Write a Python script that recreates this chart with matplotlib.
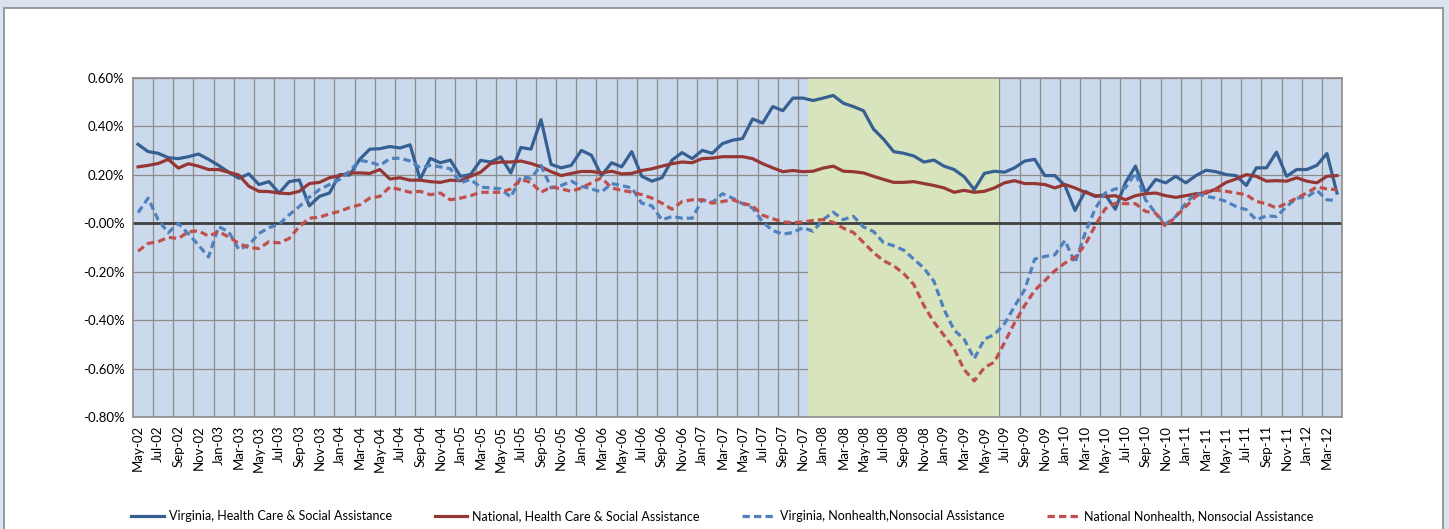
import numpy as np
import pandas as pd
import matplotlib
matplotlib.use("Agg")
import matplotlib.pyplot as plt
from matplotlib.patches import Rectangle

plt.rcParams["font.family"] = ["Lato", "DejaVu Sans"]

# monthly, May-02 .. Apr-12, percent change
months = pd.date_range("2002-05-01", periods=120, freq="MS")
labels = [d.strftime("%b-%y") for d in months]

va_health = [
    0.326, 0.296, 0.289, 0.271, 0.267, 0.275, 0.286, 0.264, 0.239, 0.211,
    0.186, 0.204, 0.160, 0.172, 0.125, 0.172, 0.179, 0.072, 0.111, 0.125,
    0.201, 0.199, 0.264, 0.306, 0.308, 0.317, 0.311, 0.324, 0.181, 0.268,
    0.250, 0.261, 0.194, 0.201, 0.260, 0.253, 0.274, 0.208, 0.313, 0.306,
    0.428, 0.243, 0.229, 0.239, 0.301, 0.281, 0.197, 0.250, 0.233, 0.296,
    0.194, 0.174, 0.188, 0.261, 0.292, 0.267, 0.301, 0.289, 0.329, 0.343,
    0.350, 0.431, 0.414, 0.482, 0.465, 0.517, 0.517, 0.507, 0.517, 0.528,
    0.496, 0.482, 0.465, 0.389, 0.347, 0.296, 0.289, 0.278, 0.253, 0.261,
    0.236, 0.222, 0.192, 0.139, 0.206, 0.215, 0.211, 0.229, 0.257, 0.264,
    0.197, 0.197, 0.156, 0.053, 0.132, 0.111, 0.118, 0.058, 0.167, 0.236,
    0.125, 0.181, 0.167, 0.194, 0.167, 0.197, 0.219, 0.213, 0.201, 0.197,
    0.156, 0.229, 0.229, 0.294, 0.194, 0.222, 0.222, 0.239, 0.288, 0.125,
]
us_health = [
    0.233, 0.239, 0.247, 0.264, 0.228, 0.246, 0.236, 0.222, 0.222, 0.211,
    0.199, 0.153, 0.132, 0.131, 0.125, 0.122, 0.132, 0.164, 0.169, 0.188,
    0.197, 0.208, 0.208, 0.206, 0.222, 0.183, 0.188, 0.178, 0.178, 0.172,
    0.169, 0.178, 0.176, 0.194, 0.211, 0.247, 0.253, 0.253, 0.257, 0.247,
    0.233, 0.213, 0.197, 0.206, 0.214, 0.214, 0.208, 0.215, 0.204, 0.206,
    0.218, 0.225, 0.236, 0.246, 0.253, 0.250, 0.267, 0.269, 0.275, 0.275,
    0.275, 0.267, 0.246, 0.229, 0.213, 0.218, 0.213, 0.215, 0.228, 0.236,
    0.215, 0.213, 0.208, 0.194, 0.181, 0.169, 0.169, 0.172, 0.164, 0.156,
    0.146, 0.128, 0.136, 0.128, 0.132, 0.146, 0.167, 0.176, 0.164, 0.164,
    0.160, 0.146, 0.160, 0.146, 0.128, 0.114, 0.111, 0.114, 0.097, 0.114,
    0.122, 0.125, 0.114, 0.107, 0.114, 0.122, 0.125, 0.142, 0.169, 0.183,
    0.201, 0.194, 0.174, 0.176, 0.174, 0.188, 0.174, 0.167, 0.194, 0.197,
]
va_other = [
    0.044, 0.104, 0.014, -0.039, 0.000, -0.044, -0.090, -0.139, -0.014, -0.035,
    -0.108, -0.090, -0.042, -0.018, -0.004, 0.035, 0.069, 0.108, 0.139, 0.160,
    0.181, 0.215, 0.260, 0.253, 0.239, 0.267, 0.269, 0.257, 0.229, 0.239,
    0.233, 0.225, 0.167, 0.181, 0.149, 0.146, 0.142, 0.108, 0.192, 0.186,
    0.239, 0.146, 0.156, 0.174, 0.153, 0.142, 0.129, 0.164, 0.156, 0.146,
    0.083, 0.072, 0.014, 0.028, 0.021, 0.021, 0.097, 0.086, 0.122, 0.104,
    0.081, 0.063, 0.005, -0.030, -0.045, -0.038, -0.018, -0.033, 0.015, 0.046,
    0.015, 0.029, -0.015, -0.034, -0.080, -0.093, -0.111, -0.148, -0.185, -0.240,
    -0.356, -0.441, -0.479, -0.559, -0.479, -0.459, -0.415, -0.343, -0.274, -0.148,
    -0.137, -0.130, -0.071, -0.164, -0.041, 0.060, 0.125, 0.142, 0.146, 0.208,
    0.097, 0.042, -0.003, 0.028, 0.083, 0.125, 0.111, 0.104, 0.090, 0.069,
    0.056, 0.014, 0.031, 0.028, 0.069, 0.104, 0.108, 0.136, 0.097, 0.094,
]
us_other = [
    -0.115, -0.083, -0.076, -0.058, -0.063, -0.035, -0.031, -0.053, -0.035, -0.056,
    -0.083, -0.101, -0.104, -0.076, -0.081, -0.063, -0.014, 0.021, 0.025, 0.039,
    0.049, 0.065, 0.076, 0.104, 0.111, 0.150, 0.139, 0.128, 0.132, 0.118,
    0.125, 0.097, 0.104, 0.114, 0.128, 0.128, 0.128, 0.142, 0.181, 0.169,
    0.128, 0.150, 0.142, 0.132, 0.146, 0.167, 0.188, 0.146, 0.136, 0.129,
    0.118, 0.104, 0.083, 0.058, 0.090, 0.097, 0.097, 0.083, 0.090, 0.097,
    0.083, 0.072, 0.033, 0.019, 0.005, 0.003, 0.005, 0.012, 0.015, 0.004,
    -0.020, -0.038, -0.079, -0.121, -0.155, -0.175, -0.208, -0.253, -0.340, -0.408,
    -0.463, -0.518, -0.605, -0.651, -0.596, -0.573, -0.493, -0.411, -0.340, -0.277,
    -0.237, -0.196, -0.164, -0.140, -0.089, -0.010, 0.060, 0.083, 0.081, 0.081,
    0.049, 0.042, -0.014, 0.028, 0.069, 0.111, 0.132, 0.136, 0.132, 0.125,
    0.118, 0.090, 0.081, 0.063, 0.083, 0.104, 0.125, 0.150, 0.142, 0.139,
]
recession = ("2007-12-01", "2009-06-01")

names = ["Virginia, Health Care & Social Assistance",
         "National, Health Care & Social Assistance",
         "Virginia, Nonhealth,Nonsocial Assistance",
         "National Nonhealth, Nonsocial Assistance"]

x = np.arange(len(months))
fig = plt.figure(figsize=(14.49, 5.29), dpi=100, facecolor="#dae3f0")
fig.patches.append(Rectangle((4 / 1449, -0.01), 1439 / 1449, 1 - 8 / 529 + 0.01,
                             transform=fig.transFigure, facecolor="white",
                             edgecolor="#8a8a8a", lw=1.2, zorder=-5))
ax = fig.add_axes([133 / 1449, 1 - 417 / 529, (1342 - 133) / 1449, (417 - 78) / 529])
ax.set_facecolor("#cbd9ec")

# gridlines under the recession band
for gx in np.arange(1.5, len(x), 2):
    ax.axvline(gx, color="#8c8c8c", lw=0.9, zorder=0.5)
for gy in np.arange(-0.8, 0.61, 0.2):
    ax.axhline(gy, color="#8c8c8c", lw=0.9, zorder=0.5)

r0 = months.get_loc(pd.Timestamp(recession[0]))
r1 = months.get_loc(pd.Timestamp(recession[1]))
ax.axvspan(r0 - 0.5, r1 + 0.5, color="#d7e4bd", zorder=1, lw=0)
ax.axhline(0, color="#404040", lw=2, zorder=2)

ax.plot(x, va_health, color="#376092", lw=2.3, label=names[0], zorder=3)
ax.plot(x, us_health, color="#953735", lw=2.3, label=names[1], zorder=3)
ax.plot(x, va_other, color="#4f81bd", lw=2.3, dashes=(2.3, 1.3), label=names[2], zorder=3)
ax.plot(x, us_other, color="#c0504d", lw=2.3, dashes=(2.3, 1.3), label=names[3], zorder=3)

ax.set_xlim(-0.5, len(x) - 0.5)
ax.set_ylim(-0.8, 0.6)
ax.set_yticks(np.arange(-0.8, 0.61, 0.2))
ax.set_yticklabels([f"{v:.2f}%" for v in np.arange(-0.8, 0.61, 0.2)], fontsize=9.5)
ax.set_xticks(x[::2])
ax.set_xticklabels(labels[::2], rotation=90, fontsize=9.5)
ax.tick_params(axis="both", length=0, pad=6, colors="#000000")
for s in ax.spines.values():
    s.set_color("#8c8c8c")
    s.set_linewidth(1.2)

fig.legend(loc="lower left", bbox_to_anchor=(120 / 1449, -0.008, 1205 / 1449, 0.06),
           mode="expand", ncol=4, frameon=False, fontsize=9,
           handlelength=2.6, handletextpad=0.4)

fig.savefig("out.png", dpi=100, facecolor=fig.get_facecolor())
